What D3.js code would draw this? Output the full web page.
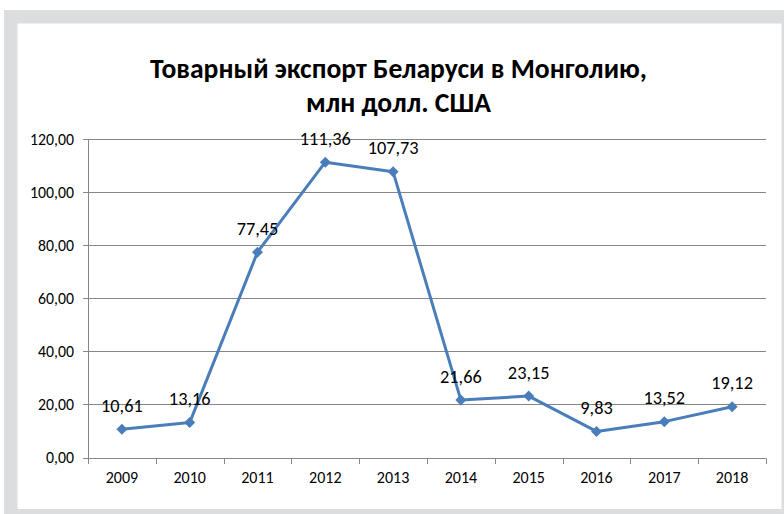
<!DOCTYPE html>
<html><head><meta charset="utf-8">
<script src="https://cdn.jsdelivr.net/npm/d3@7"></script>
<style>html,body{margin:0;padding:0;background:#fff;} svg{display:block;}</style>
</head><body>
<svg id="c" width="784" height="514"></svg>
<script>
const years = ["2009","2010","2011","2012","2013","2014","2015","2016","2017","2018"];
const values = [10.61, 13.16, 77.45, 111.36, 107.73, 21.66, 23.15, 9.83, 13.52, 19.12];
const yTicks = [0, 20, 40, 60, 80, 100, 120];
const titleLines = ["Товарный экспорт Беларуси в Монголию,", "млн долл. США"];

const svg = d3.select("#c");
const font = "Carlito, Lato, sans-serif";
const fmt = v => d3.format(".2f")(v).replace(".", ",");

// fit a font size so that a sample string reaches a target width
function fitSize(str, target, weight) {
  const t = svg.append("text").attr("font-family", font).attr("font-size", 20)
    .attr("font-weight", weight || "normal").text(str);
  const w = t.node().getComputedTextLength();
  t.remove();
  return 20 * target / w;
}
const tickFs = fitSize("120,00", 44);
const xFs = fitSize("2018", 32.5);
const lblFs = fitSize("111,36", 51);
const titleFs = fitSize(titleLines[0], 497, "bold");

// frame
svg.append("rect").attr("x",4).attr("y",10).attr("width",780).attr("height",504).attr("fill","#dcdddf");
svg.append("rect").attr("x",17.5).attr("y",23.5).attr("width",764).attr("height",485.5).attr("fill","#fff");

const x = d3.scaleBand().domain(years).range([88, 766]);
const y = d3.scaleLinear().domain([0, 120]).range([457.5, 139.3]);

// gridlines
svg.append("g").selectAll("line").data(yTicks).join("line")
  .attr("x1", 83).attr("x2", 766)
  .attr("y1", d => Math.round(y(d)) + 0.5).attr("y2", d => Math.round(y(d)) + 0.5)
  .attr("stroke", "#868686").attr("stroke-width", 1);

// y axis line
svg.append("line").attr("x1", 88.5).attr("x2", 88.5).attr("y1", Math.round(y(120))+0.5).attr("y2", Math.round(y(0))+0.5)
  .attr("stroke", "#868686");

// y labels
svg.append("g").selectAll("text").data(yTicks).join("text")
  .attr("x", 74).attr("y", d => y(d)).attr("dy", "0.35em")
  .attr("text-anchor", "end").attr("font-family", font).attr("font-size", tickFs).attr("fill", "#000")
  .text(d => fmt(d));

// x ticks at category boundaries
const bounds = years.map(d => x(d)).concat([x.range()[1]]);
svg.append("g").selectAll("line").data(bounds).join("line")
  .attr("x1", d => Math.round(d) + 0.5).attr("x2", d => Math.round(d) + 0.5)
  .attr("y1", Math.round(y(0))+0.5).attr("y2", Math.round(y(0)) + 6)
  .attr("stroke", "#868686");

// x labels
svg.append("g").selectAll("text").data(years).join("text")
  .attr("x", d => x(d) + x.bandwidth()/2).attr("y", 483)
  .attr("text-anchor", "middle").attr("font-family", font).attr("font-size", xFs).attr("fill", "#000")
  .text(d => d);

// line
const cx = (d,i) => x(years[i]) + x.bandwidth()/2;
svg.append("path").datum(values)
  .attr("d", d3.line().x((d,i) => cx(d,i)).y(d => y(d)))
  .attr("fill", "none").attr("stroke", "#4a7ebb").attr("stroke-width", 3).attr("stroke-linejoin", "round");

// markers
const r = 5.5;
svg.append("g").selectAll("path").data(values).join("path")
  .attr("d", (d,i) => { const px = cx(d,i), py = y(d); return `M${px},${py-r}L${px+r},${py}L${px},${py+r}L${px-r},${py}Z`; })
  .attr("fill", "#4a7ebb");

// data labels
svg.append("g").selectAll("text").data(values).join("text")
  .attr("x", (d,i) => cx(d,i)).attr("y", d => y(d) - 17.5)
  .attr("text-anchor", "middle").attr("font-family", font).attr("font-size", lblFs).attr("fill", "#000")
  .text(d => fmt(d));

// title
svg.append("text").attr("x", 398.5).attr("y", 78).attr("text-anchor", "middle")
  .attr("font-family", font).attr("font-weight", "bold").attr("font-size", titleFs).attr("fill", "#000")
  .text(titleLines[0]);
svg.append("text").attr("x", 398.5).attr("y", 112).attr("text-anchor", "middle")
  .attr("font-family", font).attr("font-weight", "bold").attr("font-size", titleFs).attr("fill", "#000")
  .text(titleLines[1]);
</script>
</body></html>
